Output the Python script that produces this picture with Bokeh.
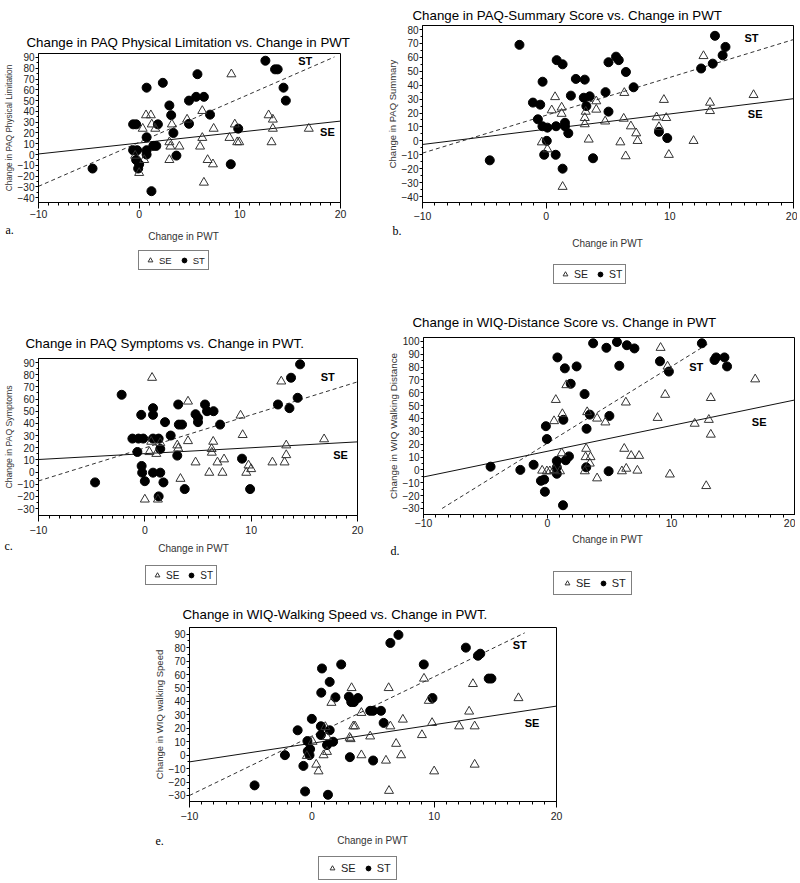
from bokeh.plotting import figure
from bokeh.models import Range1d, FixedTicker, Legend, LegendItem, Spacer
from bokeh.layouts import column, row
from bokeh.embed import file_html
from bokeh.resources import INLINE
from bokeh.core.properties import value

# ---------------- data ----------------
x_major_ticks = [-10, 0, 10, 20]
x_minor_ticks = list(range(-10, 21))

# Panel a: PAQ Physical Limitation
a_st_x = [-4.63, -0.6, -0.3, -0.6, -0.2, -0.3, -0.1, 0.0, 0.74, 0.74, 0.74, 0.74, 1.22, 1.4, 1.7, 1.86,
          2.35, 3.0, 3.18, 3.4, 3.7, 4.95, 4.95, 5.79, 5.66, 6.43, 7.04, 9.1, 9.84, 12.54, 13.5, 13.76, 14.34, 14.57]
a_st_y = [-13, 28, 28, 4, 4, -5, -13, -9, 62, 16, 4, 0, -34, 8, 8, 28,
          66.5, 45.5, 36.5, 20, -1, 50, 28.5, 74.5, 53.5, 53.5, 37, -9, 24, 87, 79, 79, 62, 50]
a_se_x = [-0.4, 0.0, 0.35, 0.5, 0.68, 1.16, 1.25, 1.6, 3.0, 3.1, 3.0, 3.25, 4.0, 4.76, 6.05, 6.27, 6.27,
          6.43, 6.8, 7.33, 7.4, 8.97, 9.16, 9.5, 9.74, 9.94, 12.86, 13.28, 13.28, 13.15, 16.85]
a_se_y = [-1, -17, 24, -5, 36.5, 36.5, 28, 24, 11.5, 7.5, -5, 28, 7.5, 32.5, 7.5, 15.5, 40.5,
          -26, -5, -9, 24, 15.5, 74.5, 28, 11.5, 11.5, 36.5, 32.5, 24, 11.5, 24]
a_st_fit_x = [-10, 19.4]
a_st_fit_y = [-29.5, 90.5]
a_se_fit_x = [-10, 20]
a_se_fit_y = [0.5, 31]
a_tag_x = [16.5, 18.7]
a_tag_y = [86.6, 21]

# Panel b: PAQ Summary
b_st_x = [-4.56, -2.16, -1.07, -0.48, -0.29, -0.67, -0.3, 0.1, 0.05, -0.16, 0.77, 0.8, 0.85, 1.33, 1.52, 1.52,
          1.33, 1.79, 2.0, 2.4, 3.12, 3.04, 3.52, 3.25, 3.79, 4.8, 5.04, 5.04, 5.65, 5.87, 6.45, 7.07,
          9.12, 9.79, 12.53, 13.47, 13.65, 14.27, 14.5]
b_st_y = [-14, 69, 27.5, 26, 42.5, 15.5, 10.5, 9.5, 0, -10, -10, 10.5, 58, 55, 13, 10.5,
          -20, 5.5, 32.5, 44.5, 44, 31, 32, 25, -12.5, 35, 56.5, 21, 60.5, 58, 49.5, 38.5,
          6.5, 2, 52, 55.5, 75.5, 61.5, 67.5]
b_se_x = [-0.35, 0.1, 0.45, 0.72, 1.25, 1.25, 1.33, 3.12, 3.12, 3.2, 3.44, 4.05, 4.05, 4.77, 6.0, 6.27,
          6.32, 6.43, 6.85, 7.28, 7.39, 8.93, 9.12, 9.52, 9.71, 9.92, 11.92, 12.72, 13.25, 13.25, 16.77]
b_se_y = [-1, -6, 22, 31.5, 24, 19.5, -33, 16.5, 12, 21, 1, 28.5, 22.5, 14, -1, 16,
          34.5, -11, 10.5, 5.5, 0, 17, 10, 29.5, 16.5, -10, 0, 61, 27.5, 21.5, 33]
b_st_fit_x = [-10, 20]
b_st_fit_y = [-8.8, 72.8]
b_se_fit_x = [-10, 20]
b_se_fit_y = [-2.6, 30.3]
b_tag_x = [16.6, 16.9]
b_tag_y = [74, 19.5]

# Panel c: PAQ Symptoms
c_st_x = [-4.68, -2.18, -1.17, -0.6, -0.15, -0.7, -0.34, -0.3, -0.25, 0.0, 0.77, 0.77, 0.77, 0.77,
          1.3, 1.3, 1.45, 1.45, 1.75, 1.9, 2.43, 3.05, 3.14, 3.2, 3.5, 3.75, 4.77, 5.0, 5.0, 5.66, 5.85,
          6.46, 7.08, 9.14, 9.9, 12.52, 13.6, 13.75, 14.37, 14.6]
c_st_y = [-8.5, 63.5, 27.5, 27.5, 27.5, 16.5, 47, 5, -0.5, -7.5, 52.5, 47, 27.5, -0.5,
          27.5, -20, 19, -0.5, -8.5, 41, 30, 13.5, 55.5, 39, 39, -14, 47.5, 44.5, 41, 55.5, 50,
          50, 39, 11, -14, 55.5, 52.5, 77.5, 61, 88.5]
c_se_x = [0.0, 0.43, 0.6, 0.68, 1.08, 1.23, 1.45, 3.05, 3.14, 3.35, 4.06, 4.06, 4.77, 6.06, 6.28, 6.3,
          6.43, 6.83, 7.3, 7.45, 9.0, 9.2, 9.54, 9.75, 10.0, 12.0, 12.83, 13.14, 13.3, 13.3, 16.86]
c_se_y = [-22.5, 16.5, 25, 77.5, 15, -22.5, 24, 22, 19.5, -5.5, 25.5, 58, 8, -0.5, 19, 16,
          25, 8, -0.5, 10.5, 46.5, 30.5, -0.5, 5.5, 2.5, 8, 74.5, 8, 14, 22, 27]
c_st_fit_x = [-10, 20]
c_st_fit_y = [-7.3, 74.1]
c_se_fit_x = [-10, 20]
c_se_fit_y = [10.3, 24.8]
c_tag_x = [17.2, 18.4]
c_tag_y = [77.7, 13.8]

# Panel d: WIQ Distance
d_st_x = [-4.59, -2.19, -1.12, -0.53, -0.27, -0.21, -0.13, -0.05, 0.8, 0.75, 0.75, 0.75, 1.25, 1.4,
          1.28, 1.47, 1.73, 1.87, 2.35, 2.99, 3.15, 3.12, 3.41, 3.68, 4.75, 4.99, 4.93, 5.6, 5.79, 6.4,
          7.01, 9.07, 9.79, 12.45, 13.47, 13.6, 14.27, 14.48]
d_st_y = [2.5, 0, 4, -8.5, -7.5, -17, 34, 24, 87.5, 7, 2, -3, -27.5, 79,
          39, 7.5, 10.5, 67, 80.5, 59, 32, 2, 43, 98.5, 95, 42, -1, 99.5, 81, 97,
          94.5, 84.5, 76.5, 98.5, 85.5, 87.5, 87.5, 80.5]
d_se_x = [-0.43, -0.05, 0.19, 0.53, 0.53, 0.67, 1.01, 1.15, 1.2, 1.52, 3.01, 3.12, 3.07, 3.2, 3.41,
          3.47, 4.0, 4.0, 4.67, 6.0, 6.19, 6.32, 6.35, 6.75, 7.25, 7.39, 8.88, 9.12, 9.49, 9.68, 9.87,
          11.87, 12.8, 13.01, 13.17, 13.17, 16.75]
d_se_y = [-0.5, -1, -1, 0, 38, 54.5, -1, 13, 43.5, 66, -1, 16.5, 10, 45, 5,
          10, -6.5, 40, 37, -1, 16.5, 52.5, 1, 11, -0.5, 11, 40.5, 95, 58.5, 80.5, -3.5,
          36, -12.5, 39, 56, 27.5, 70.5]
d_st_fit_x = [-8.5, 13.1]
d_st_fit_y = [-30, 99]
d_se_fit_x = [-10, 20]
d_se_fit_y = [-5.5, 54.5]
d_tag_x = [12.0, 17.07]
d_tag_y = [80.4, 37.2]

# Panel e: WIQ Walking Speed
e_st_x = [-4.68, -2.2, -1.16, -0.69, -0.55, -0.36, -0.33, -0.19, -0.14, 0.0, 0.74, 0.74, 0.83, 0.77,
          1.24, 1.32, 1.46, 1.46, 1.74, 1.93, 2.4, 3.03, 3.11, 3.22, 3.44, 3.77, 4.77, 5.01, 5.01, 5.65,
          5.87, 6.42, 7.08, 9.15, 9.86, 12.59, 13.58, 13.77, 14.46, 14.68]
e_st_y = [-22.5, 0, 18.5, -8, -27, 10.5, 3, 0, 4.5, 27, 21.5, 15, 64.5, 46.5,
          7.5, -29.5, 54.5, 18.5, 10, 43, 67.5, 43.5, -1.5, 39.5, 39.5, 42.5, 33, 33, -4, 33,
          24, 83.5, 89.5, 67.5, 42.5, 80, 74, 75.5, 57, 57]
e_se_x = [-0.41, 0.06, 0.36, 0.55, 0.96, 1.1, 1.24, 1.24, 1.6, 3.09, 3.17, 3.25, 3.39, 3.53, 4.05, 4.05,
          4.77, 6.06, 6.28, 6.31, 6.42, 6.89, 7.3, 7.44, 9.0, 9.17, 9.56, 9.83, 10.0, 12.04, 12.86,
          13.17, 13.31, 13.31, 16.89]
e_se_y = [-0.5, 10, -7, -12, 0, 21, 13.5, 2.5, 39, 13, 12, 50, 21.5, 21.5, 0, 31.5,
          14, -4, 50, -26.5, 21.5, 8.5, 0, 26.5, 15, 57, 40.5, 24, -12, 21.5, 32.5,
          53, 21.5, -7, 42.5]
e_st_fit_x = [-10, 17.4]
e_st_fit_y = [-30, 91]
e_se_fit_x = [-10, 20]
e_se_fit_y = [-5, 36.5]
e_tag_x = [17.0, 18.0]
e_tag_y = [82.3, 24.2]

tag_text = ["ST", "SE"]
legend_labels = ["SE", "ST"]
x_title = "Change in PWT"

SANS = "Liberation Sans"
SERIF = "Liberation Serif"
NAN = float("nan")


def no_align(p):
    try:
        p.frame_align = False
    except Exception:
        pass


def make_main(title, ylabel, yr, yticks, st_x, st_y, se_x, se_y,
              st_fx, st_fy, se_fx, se_fy, tag_x, tag_y, g):
    p = figure(output_backend="svg", toolbar_location=None,
               width=g["ml"] + g["fw"] + g["mr"], height=g["mt"] + g["fh"] + g["mb"],
               min_border_left=g["ml"], min_border_right=g["mr"],
               min_border_top=g["mt"], min_border_bottom=g["mb"],
               x_range=Range1d(-10, 20), y_range=Range1d(*yr),
               title=title)
    no_align(p)
    p.title.text_font = SANS
    p.title.text_font_size = "13.3px"
    p.title.text_font_style = "normal"
    p.title.text_color = "black"
    p.title.align = "left"
    p.title.offset = g["toff"]
    p.title.standoff = g["tstand"]

    p.xgrid.visible = False
    p.ygrid.visible = False
    p.outline_line_color = "black"
    p.outline_line_width = 1
    p.background_fill_color = "white"
    p.border_fill_color = "white"

    xa = p.xaxis[0]
    xa.ticker = FixedTicker(ticks=x_major_ticks, minor_ticks=x_minor_ticks)
    xa.major_label_text_font = SANS
    xa.major_label_text_font_size = "10.5px"
    xa.major_label_text_color = "#222222"
    xa.major_label_standoff = g["xms"]
    xa.major_tick_out = g["xto"]
    xa.major_tick_in = 0
    xa.minor_tick_out = 3
    xa.minor_tick_in = 0
    xa.axis_line_color = "black"

    ya = p.yaxis[0]
    ya.ticker = FixedTicker(ticks=yticks, minor_ticks=list(range(yticks[0], yticks[-1] + 1, 5)))
    ya.axis_label = ylabel
    ya.axis_label_text_font = SANS
    ya.axis_label_text_font_size = g["ylf"]
    ya.axis_label_text_font_style = "normal"
    ya.axis_label_text_color = "#333333"
    ya.axis_label_standoff = 1
    ya.major_label_text_font = SANS
    ya.major_label_text_font_size = "10px"
    ya.major_label_text_color = "#222222"
    ya.major_label_standoff = 1
    ya.major_tick_out = 3
    ya.major_tick_in = 0
    ya.minor_tick_out = 2
    ya.minor_tick_in = 0
    ya.axis_line_color = "black"

    # fitted lines
    p.line(st_fx, st_fy, line_color="#333333", line_width=1, line_dash="4 3")
    p.line(se_fx, se_fy, line_color="#111111", line_width=1)

    p.scatter(st_x, st_y, marker="circle", size=9, fill_color="black", line_color="black")
    p.scatter(se_x, se_y, marker="triangle", size=9, fill_color=None,
              line_color="#333333", line_width=1)

    p.text(tag_x, tag_y, text=tag_text, text_font=value(SANS), text_font_size="11px",
           text_font_style="bold", text_align="center", text_baseline="middle", text_color="black")
    return p


def make_footer(letter, g):
    W, H = g["W"], g["H"]
    f = figure(output_backend="svg", toolbar_location=None,
               width=W, height=H,
               min_border_left=0, min_border_right=0, min_border_top=0, min_border_bottom=0,
               x_range=Range1d(0, W), y_range=Range1d(H, 0),
               x_axis_location=None, y_axis_location=None)
    no_align(f)
    f.xgrid.visible = False
    f.ygrid.visible = False
    f.outline_line_color = None
    f.background_fill_color = "white"
    f.border_fill_color = "white"

    f.text([g["tx"]], [g["ty"]], text=[x_title], text_font=value(SANS), text_font_size="10px",
           text_align="center", text_baseline="middle", text_color="#333333")
    f.text([g["lx"]], [g["ly"]], text=[letter], text_font=value(SERIF), text_font_size="12px",
           text_align="left", text_baseline="middle", text_color="black")

    # key swatches: renderers with no visible point, used only by the legend
    r_se = f.scatter([NAN], [NAN], marker="triangle", size=9, fill_color=None,
                     line_color="#333333", line_width=1)
    r_st = f.scatter([NAN], [NAN], marker="circle", size=9, fill_color="black", line_color="black")
    leg = Legend(items=[LegendItem(label=legend_labels[0], renderers=[r_se]),
                        LegendItem(label=legend_labels[1], renderers=[r_st])],
                 location=(g["gx"], g["gy"]), orientation="horizontal",
                 label_text_font=SANS, label_text_font_size=g["gf"], label_text_color="#222222",
                 border_line_color="black", border_line_width=1, background_fill_color="white",
                 background_fill_alpha=1.0, padding=g["gp"], spacing=4, margin=0,
                 glyph_width=16, glyph_height=12, label_standoff=1, label_height=12, label_width=10)
    f.add_layout(leg)
    return f


pa = make_main("Change in PAQ Physical Limitation vs. Change in PWT",
               "Change in PAQ Physical Limitation", (-44.5, 93.7), list(range(-40, 91, 10)),
               a_st_x, a_st_y, a_se_x, a_se_y, a_st_fit_x, a_st_fit_y, a_se_fit_x, a_se_fit_y,
               a_tag_x, a_tag_y,
               dict(fw=302, fh=149, ml=38, mr=42, mt=53, mb=21, toff=-12, tstand=7,
                    xms=1, xto=6, ylf="8.2px"))
fa = make_footer("a.", dict(W=382, H=67, tx=183, ty=13, lx=5, ly=6, gx=138, gy=20, gf="9.5px", gp=3))

pb = make_main("Change in PAQ-Summary Score vs. Change in PWT",
               "Change in PAQ Summary", (-44.3, 82.9), list(range(-40, 81, 10)),
               b_st_x, b_st_y, b_se_x, b_se_y, b_st_fit_x, b_st_fit_y, b_se_fit_x, b_se_fit_y,
               b_tag_x, b_tag_y,
               dict(fw=371, fh=177, ml=40, mr=4, mt=25, mb=21, toff=-10, tstand=6,
                    xms=3, xto=6, ylf="9.5px"))
fb = make_footer("b.", dict(W=415, H=67, tx=225, ty=20, lx=10, ly=7, gx=171, gy=6, gf="10.5px", gp=3))

pc = make_main("Change in PAQ Symptoms vs. Change in PWT.",
               "Change in PAQ Symptoms", (-35.7, 93.3), list(range(-30, 91, 10)),
               c_st_x, c_st_y, c_se_x, c_se_y, c_st_fit_x, c_st_fit_y, c_se_fit_x, c_se_fit_y,
               c_tag_x, c_tag_y,
               dict(fw=319, fh=157, ml=38, mr=23, mt=68, mb=23, toff=-13, tstand=15,
                    xms=4, xto=6, ylf="8.7px"))
fc = make_footer("c.", dict(W=380, H=60, tx=193, ty=10, lx=4, ly=7, gx=145, gy=13, gf="10px", gp=3))

pd_ = make_main("Change in WIQ-Distance Score vs. Change in PWT",
                "Change in WIQ Walking Distance", (-34.7, 103), list(range(-30, 101, 10)),
                d_st_x, d_st_y, d_se_x, d_se_y, d_st_fit_x, d_st_fit_y, d_se_fit_x, d_se_fit_y,
                d_tag_x, d_tag_y,
                dict(fw=372, fh=177, ml=43, mr=0, mt=47, mb=18, toff=-11, tstand=16,
                     xms=0, xto=4, ylf="9.9px"))
fd = make_footer("d.", dict(W=415, H=66, tx=227, ty=7, lx=10, ly=18, gx=173, gy=3, gf="11px", gp=5))

pe = make_main("Change in WIQ-Walking Speed vs. Change in PWT.",
               "Change in WIQ walking Speed", (-34.5, 95), list(range(-30, 91, 10)),
               e_st_x, e_st_y, e_se_x, e_se_y, e_st_fit_x, e_st_fit_y, e_se_fit_x, e_se_fit_y,
               e_tag_x, e_tag_y,
               dict(fw=367, fh=174, ml=40, mr=10, mt=29, mb=24, toff=-7, tstand=12,
                    xms=4, xto=6, ylf="9.5px"))
fe = make_footer("e.", dict(W=417, H=58, tx=223, ty=15, lx=6, ly=15, gx=169, gy=3, gf="11px", gp=5))

layout = column(
    row(column(pa, fa), column(pb, fb)),
    row(column(pc, fc), column(pd_, fd)),
    row(Spacer(width=149, height=10), column(pe, fe)),
)

open("out.html", "w").write(file_html(layout, INLINE))
